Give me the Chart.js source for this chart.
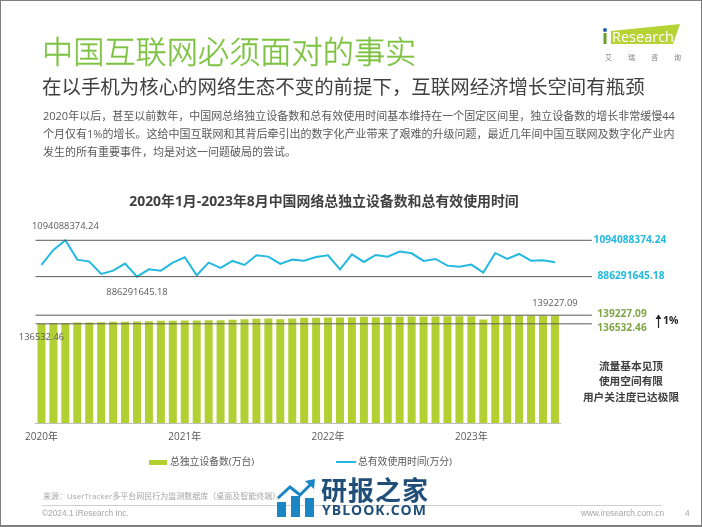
<!DOCTYPE html>
<html>
<head>
<meta charset="utf-8">
<title>中国互联网必须面对的事实</title>
<script src="https://cdn.jsdelivr.net/npm/chart.js@4/dist/chart.umd.min.js"></script>
<style>
  html, body { margin: 0; padding: 0; background: #fff; }
  body { width: 702px; height: 527px; position: relative; overflow: hidden;
    font-family: "Open Sans", "Noto Sans CJK SC", sans-serif; }
  #voteless { position: absolute; left: 0; top: 0; }
  .t { position: absolute; white-space: nowrap; }
  #frame { position: absolute; left: 0; top: 0; width: 702px; height: 527px; box-sizing: border-box;
    border: 1px solid #808080; border-bottom-width: 2px; pointer-events: none; }
  #title { left: 42px; top: 28px; font-size: 31.2px; line-height: 46px; color: #7dc242; font-weight: 300;
    -webkit-text-stroke: 0.35px #7dc242; }
  #subtitle { left: 42px; top: 73px; font-size: 19.45px; line-height: 28px; color: #404040; }
  #para { left: 43px; top: 107px; font-size: 11px; line-height: 18.2px; color: #595959; }
  #chartTitle { left: 0; width: 648px; text-align: center; top: 191px; font-size: 13.9px; line-height: 20px;
    font-weight: 700; color: #404040; }
  #note { left: 561px; width: 140px; text-align: center; top: 358.5px; font-size: 10.7px; line-height: 15.5px;
    font-weight: 700; color: #404040; }
  #pct { left: 663px; top: 313px; font-size: 10.5px; line-height: 14px; font-weight: 700; color: #262626; }
  #legend { position: absolute; left: 0; top: 454px; width: 702px; height: 16px; }
  .lg { position: absolute; top: 0; font-size: 9.8px; line-height: 16px; color: #595959; white-space: nowrap; }
  .sw { position: absolute; }
  #source { left: 43px; top: 490px; font-size: 8px; line-height: 12px; color: #a6a6a6; }
  #rule { position: absolute; left: 42px; top: 505px; width: 620px; height: 1px; background: #cfcfcf; }
  .foot { top: 507px; font-family: "Liberation Sans", sans-serif; font-size: 8.3px; line-height: 12px; color: #a6a6a6; }
  #wm1 { left: 321px; top: 473px; font-size: 26px; line-height: 34px; font-weight: 700; color: #1f4e79; letter-spacing: 1px; }
  #wm2 { left: 322px; top: 501px; font-size: 14px; line-height: 18px; font-weight: 700; color: #1f4e79; letter-spacing: 1px; }
  #logoSub { left: 605px; top: 53px; font-size: 7px; line-height: 10px; color: #7f7f7f; letter-spacing: 16px; }
</style>
</head>
<body>
<canvas id="voteless" width="702" height="527"></canvas>

<div class="t" id="title">中国互联网必须面对的事实</div>
<div class="t" id="subtitle">在以手机为核心的网络生态不变的前提下，互联网经济增长空间有瓶颈</div>
<div class="t" id="para">2020年以后，甚至以前数年，中国网总络独立设备数和总有效使用时间基本维持在一个固定区间里，独立设备数的增长非常缓慢44<br>个月仅有1%的增长。这给中国互联网和其背后牵引出的数字化产业带来了艰难的升级问题，最近几年间中国互联网及数字化产业内<br>发生的所有重要事件，均是对这一问题破局的尝试。</div>
<div class="t" id="chartTitle">2020年1月-2023年8月中国网络总独立设备数和总有效使用时间</div>
<div class="t" id="note">流量基本见顶<br>使用空间有限<br>用户关注度已达极限</div>
<div class="t" id="pct">1%</div>
<svg style="position:absolute;left:654px;top:313px" width="9" height="16">
  <path d="M4.5 2V15" stroke="#262626" stroke-width="1.2"/>
  <path d="M1.5 6L4.5 1.5L7.5 6Z" fill="#262626"/>
</svg>
<div id="legend"></div>

<div class="t" id="source">来源：UserTracker多平台网民行为监测数据库（桌面及智能终端）。</div>
<div id="rule"></div>
<div class="t foot" style="left:42px">©2024.1 iResearch Inc.</div>
<div class="t foot" style="left:581px">www.iresearch.com.cn</div>
<div class="t foot" style="left:685px">4</div>

<svg style="position:absolute;left:276px;top:478px" width="40" height="40">
  <rect x="1" y="24" width="9" height="15" fill="#1c86c4"/>
  <rect x="15" y="18" width="9" height="21" fill="#1c86c4"/>
  <rect x="29" y="20" width="9" height="19" fill="#1c86c4"/>
  <path d="M2 20L14 9L24 17L35 6" fill="none" stroke="#1c86c4" stroke-width="3"/>
  <path d="M29 3L39 1L38 11Z" fill="#1c86c4"/>
</svg>
<div class="t" id="wm1">研报之家</div>
<div class="t" id="wm2">YBLOOK.COM</div>

<svg style="position:absolute;left:600px;top:20px" width="84" height="28">
  <path d="M11 11L80 4L73 24L11 24Z" fill="#b5d334"/>
  <circle cx="5" cy="10" r="2" fill="#1f5fa8"/>
  <rect x="3.5" y="13" width="3" height="11" fill="#6aa028"/>
  <text x="12" y="22" font-family="Open Sans" font-size="14.5" fill="#fff">Research</text>
</svg>
<div class="t" id="logoSub">艾瑞咨询</div>
<div id="frame"></div>

<script>
var categories = [
  "2020-01", "2020-02", "2020-03", "2020-04", "2020-05", "2020-06", "2020-07", "2020-08", "2020-09", "2020-10", "2020-11", "2020-12",
  "2021-01", "2021-02", "2021-03", "2021-04", "2021-05", "2021-06", "2021-07", "2021-08", "2021-09", "2021-10", "2021-11", "2021-12",
  "2022-01", "2022-02", "2022-03", "2022-04", "2022-05", "2022-06", "2022-07", "2022-08", "2022-09", "2022-10", "2022-11", "2022-12",
  "2023-01", "2023-02", "2023-03", "2023-04", "2023-05", "2023-06", "2023-07", "2023-08"
];

// 总独立设备数(万台)
var deviceValues = [
  136532.46, 136740, 136740, 136950, 136950, 137050, 137150, 137150, 137260, 137360, 137460, 137460,
  137570, 137570, 137670, 137670, 137780, 137980, 138090, 138190, 137980, 138190, 138400, 138400,
  138500, 138500, 138600, 138710, 138600, 138710, 138710, 138810, 138810, 138810, 138920, 138920,
  138920, 137880, 139120, 139120, 139120, 139120, 139120, 139227.09
];

// 总有效使用时间(万分)
var timeValues = [
  953000000, 1038800000, 1094088374.24, 983500000, 972100000, 901600000, 920600000, 960600000, 886291645.18, 928200000, 920600000, 966400000,
  996900000, 893900000, 966400000, 935900000, 975900000, 953000000, 1008300000, 1000700000, 958700000, 983500000, 977800000, 998800000,
  1008300000, 928200000, 1014000000, 970200000, 1010200000, 1000700000, 1029300000, 1019700000, 975900000, 987300000, 949200000, 943500000,
  954900000, 909200000, 1021700000, 987300000, 1015900000, 977800000, 979700000, 968300000
];

var deviceName = "总独立设备数(万台)";
var timeName = "总有效使用时间(万分)";
var deviceColor = "#b3d033";
var timeColor = "#25b9e0";
var deviceTextColor = "#7fa647";
var refColor = "#595959";
var valueFont = '"Open Sans", "Noto Sans CJK SC", sans-serif';

function formatValue(val) {
  return val.toFixed(2);
}

function drawText(ctx, text, x, y, color, font, align) {
  ctx.fillStyle = color;
  ctx.font = font;
  ctx.textAlign = align;
  ctx.textBaseline = "middle";
  ctx.fillText(text, x, y);
}

// max and min guide lines with their value labels
var refLinesPlugin = {
  id: "refLines",
  afterDatasetsDraw: function (chart) {
    var ctx = chart.ctx;
    var area = chart.chartArea;
    var grayFont = "9.4px " + valueFont;
    var boldFont = "bold 10.2px " + valueFont;

    function refLine(scaleId, datasetIndex, values, val, labelOffset, sideOffset, sideX, sideColor) {
      var y = chart.scales[scaleId].getPixelForValue(val);
      var point = chart.getDatasetMeta(datasetIndex).data[values.indexOf(val)];
      ctx.save();
      ctx.strokeStyle = refColor;
      ctx.lineWidth = 1;
      ctx.beginPath();
      ctx.moveTo(area.left, y);
      ctx.lineTo(area.right + 31, y);
      ctx.stroke();
      drawText(ctx, formatValue(val), point.x, y + labelOffset, refColor, grayFont, "center");
      drawText(ctx, formatValue(val), sideX, y + sideOffset, sideColor, boldFont, "center");
      ctx.restore();
    }

    var timeMax = Math.max.apply(null, timeValues);
    var timeMin = Math.min.apply(null, timeValues);
    var devMax = Math.max.apply(null, deviceValues);
    var devMin = Math.min.apply(null, deviceValues);

    refLine("yLine", 1, timeValues, timeMax, -13.5, 0, 630, timeColor);
    refLine("yLine", 1, timeValues, timeMin, 15.5, -1, 631, timeColor);
    refLine("yBar", 0, deviceValues, devMax, -11.5, -1.5, 622, deviceTextColor);
    refLine("yBar", 0, deviceValues, devMin, 13, 4, 622, deviceTextColor);
  }
};

function buildLegend(chart) {
  var box = document.getElementById("legend");
  var spots = [
    { swatch: 149, width: 18, height: 5, text: 170 },
    { swatch: 336, width: 20, height: 2, text: 358 }
  ];
  chart.data.datasets.forEach(function (ds, i) {
    var sw = document.createElement("div");
    sw.className = "sw";
    sw.style.left = spots[i].swatch + "px";
    sw.style.width = spots[i].width + "px";
    sw.style.height = spots[i].height + "px";
    sw.style.top = (8 - spots[i].height / 2) + "px";
    sw.style.background = ds.type === "line" ? ds.borderColor : ds.backgroundColor;
    box.appendChild(sw);
    var lab = document.createElement("div");
    lab.className = "lg";
    lab.style.left = spots[i].text + "px";
    lab.textContent = ds.label;
    box.appendChild(lab);
  });
}

function buildChart() {
  var ctx = document.getElementById("voteless").getContext("2d");
  var chart = new Chart(ctx, {
    data: {
      labels: categories,
      datasets: [{
        type: "bar",
        label: deviceName,
        data: deviceValues,
        yAxisID: "yBar",
        backgroundColor: deviceColor,
        borderWidth: 0,
        barPercentage: 0.67,
        categoryPercentage: 1
      }, {
        type: "line",
        label: timeName,
        data: timeValues,
        yAxisID: "yLine",
        borderColor: timeColor,
        borderWidth: 2,
        pointRadius: 0,
        tension: 0
      }]
    },
    options: {
      responsive: false,
      animation: false,
      layout: {
        padding: { left: 35.5, right: 141.1, top: 232, bottom: 76 }
      },
      plugins: {
        legend: { display: false },
        tooltip: { enabled: false }
      },
      scales: {
        x: {
          offset: true,
          grid: { display: false, drawTicks: false },
          border: { display: true, color: "#bfbfbf" },
          ticks: {
            autoSkip: false,
            maxRotation: 0,
            padding: 8,
            color: "#595959",
            font: { size: 10, family: valueFont },
            callback: function (value, index) {
              var parts = categories[index].split("-");
              return parts[1] === "01" ? parts[0] + "年" : "";
            }
          }
        },
        yBar: { display: false, min: 105660, max: 165120 },
        yLine: { display: false, min: 49400000, max: 1141500000 }
      }
    },
    plugins: [refLinesPlugin]
  });
  buildLegend(chart);
}

buildChart();
</script>
</body>
</html>
